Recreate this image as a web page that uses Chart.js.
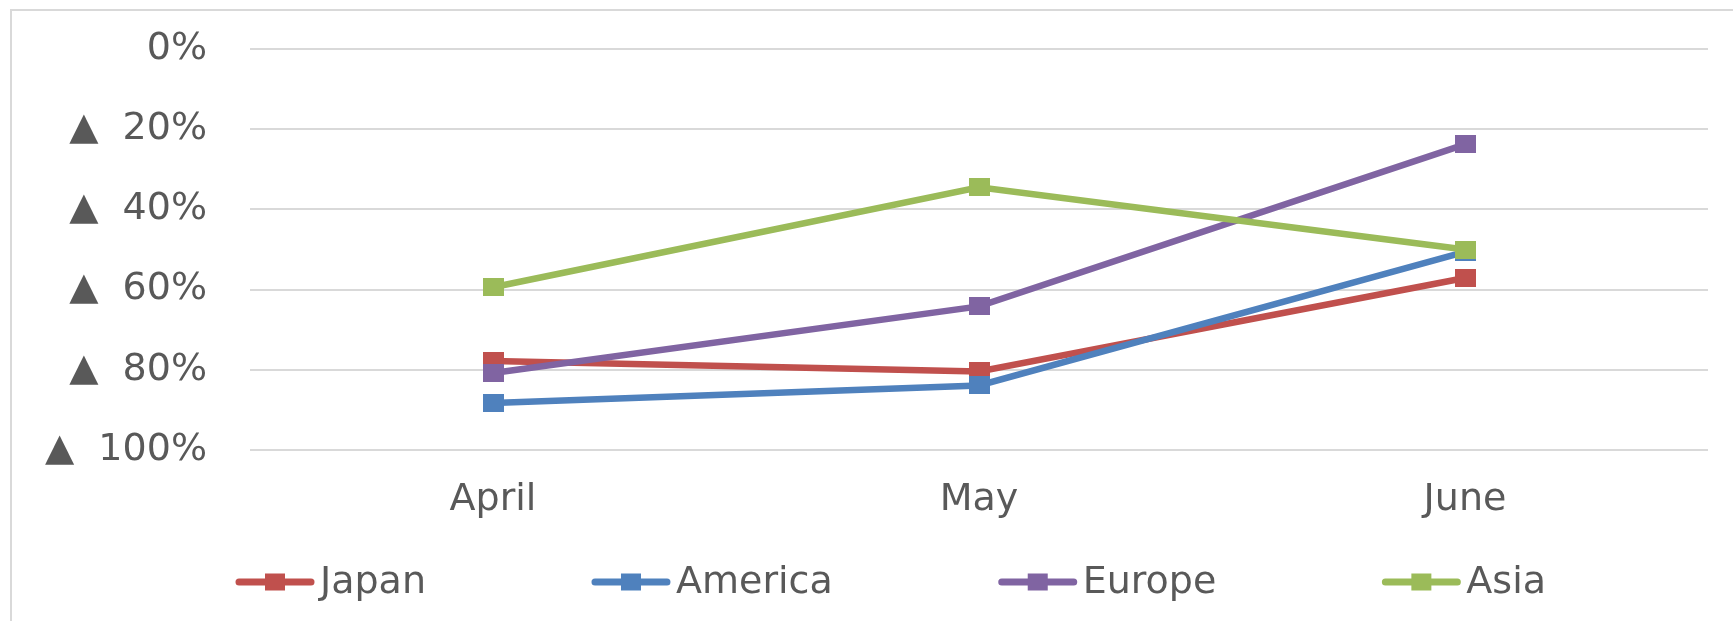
<!DOCTYPE html>
<html>
<head>
<meta charset="utf-8">
<script src="https://cdn.jsdelivr.net/npm/chart.js@4.4.1/dist/chart.umd.min.js"></script>
<style>
  html, body { margin: 0; padding: 0; background: #ffffff; }
  #wrap { width: 1733px; height: 621px; position: relative; }
</style>
</head>
<body>
<div id="wrap"><canvas id="c" width="1733" height="621"></canvas></div>
<script>
// ---- data ----
const categories = ['April', 'May', 'June'];
const seriesNames = ['Japan', 'America', 'Europe', 'Asia'];
const japan   = [-77.8, -80.4, -57.1];
const america = [-88.3, -83.9, -50.6];
const europe  = [-80.8, -64.2, -23.8];
const asia    = [-59.4, -34.5, -50.0];
const yTicks  = [0, -20, -40, -60, -80, -100];

// ---- styles ----
const colors = ['#C0504D', '#4F81BD', '#8064A2', '#9BBB59'];
const textColor = '#595959';
const gridColor = '#D9D9D9';
const FONT = "'DejaVu Sans', Verdana, sans-serif";
const FONT_SIZE = 38;

function makeMarker(color, w, h) {
  const cv = document.createElement('canvas');
  cv.width = w; cv.height = h;
  const g = cv.getContext('2d');
  g.fillStyle = color;
  g.fillRect(0, 0, w, h);
  return cv;
}

const seriesData = [japan, america, europe, asia];
const datasets = seriesData.map((d, i) => ({
  label: seriesNames[i],
  data: d,
  borderColor: colors[i],
  backgroundColor: colors[i],
  borderWidth: 6.5,
  pointStyle: makeMarker(colors[i], 21, 18),
  pointRadius: 10,
  pointHoverRadius: 10,
  tension: 0,
  fill: false,
  order: 3 - i
}));

const framePlugin = {
  id: 'frame',
  beforeDraw(chart) {
    const ctx = chart.ctx;
    ctx.save();
    ctx.fillStyle = '#ffffff';
    ctx.fillRect(0, 0, chart.width, chart.height);
    ctx.strokeStyle = gridColor;
    ctx.lineWidth = 2;
    ctx.beginPath();
    ctx.moveTo(11, chart.height);
    ctx.lineTo(11, 10);
    ctx.lineTo(chart.width, 10);
    ctx.stroke();
    ctx.restore();
  }
};

const legendPlugin = {
  id: 'customLegend',
  afterDraw(chart) {
    const ctx = chart.ctx;
    ctx.save();
    ctx.font = FONT_SIZE + 'px ' + FONT;
    ctx.textBaseline = 'middle';
    ctx.textAlign = 'left';
    const lineLen = 78, textGap = 6, itemGap = 166, y = 582;
    let x = 236;
    chart.data.datasets.forEach((ds, i) => {
      ctx.strokeStyle = ds.borderColor;
      ctx.lineWidth = 7;
      ctx.lineCap = 'round';
      ctx.beginPath();
      ctx.moveTo(x + 3, y);
      ctx.lineTo(x + lineLen - 3, y);
      ctx.stroke();
      ctx.fillStyle = ds.borderColor;
      ctx.fillRect(x + lineLen / 2 - 10, y - 8.5, 20, 17);
      ctx.fillStyle = textColor;
      const tx = x + lineLen + textGap;
      ctx.fillText(ds.label, tx, y + 1);
      x = tx + ctx.measureText(ds.label).width + itemGap;
    });
    ctx.restore();
  }
};

Chart.defaults.font.family = FONT;
Chart.defaults.font.size = FONT_SIZE;
Chart.defaults.color = textColor;

new Chart(document.getElementById('c'), {
  type: 'line',
  data: { labels: categories, datasets: datasets },
  options: {
    responsive: false,
    animation: false,
    devicePixelRatio: 1,
    layout: { padding: { top: 49, right: 25, bottom: 0, left: 0 } },
    plugins: {
      legend: { display: false },
      tooltip: { enabled: false }
    },
    scales: {
      x: {
        type: 'category',
        offset: true,
        grid: { display: false, drawTicks: false },
        border: { display: false },
        ticks: { padding: 27, color: textColor, font: { size: FONT_SIZE } },
        afterFit(scale) {
          scale.height = 171;
          scale.paddingLeft = 0; scale.paddingRight = 0;
          scale.paddingTop = 0; scale.paddingBottom = 0;
        }
      },
      y: {
        min: -100,
        max: 0,
        grid: { color: gridColor, lineWidth: 2, drawTicks: false },
        border: { display: false },
        afterBuildTicks(scale) { scale.ticks = yTicks.map(v => ({ value: v })); },
        ticks: {
          padding: 43,
          color: textColor,
          font: { size: FONT_SIZE },
          callback(v) { return v === 0 ? '0%' : '\u25B2  ' + (-v) + '%'; }
        },
        afterFit(scale) {
          scale.width = 250;
          scale.paddingTop = 0; scale.paddingBottom = 0;
          scale.paddingLeft = 0; scale.paddingRight = 0;
        }
      }
    }
  },
  plugins: [framePlugin, legendPlugin]
});
</script>
</body>
</html>
